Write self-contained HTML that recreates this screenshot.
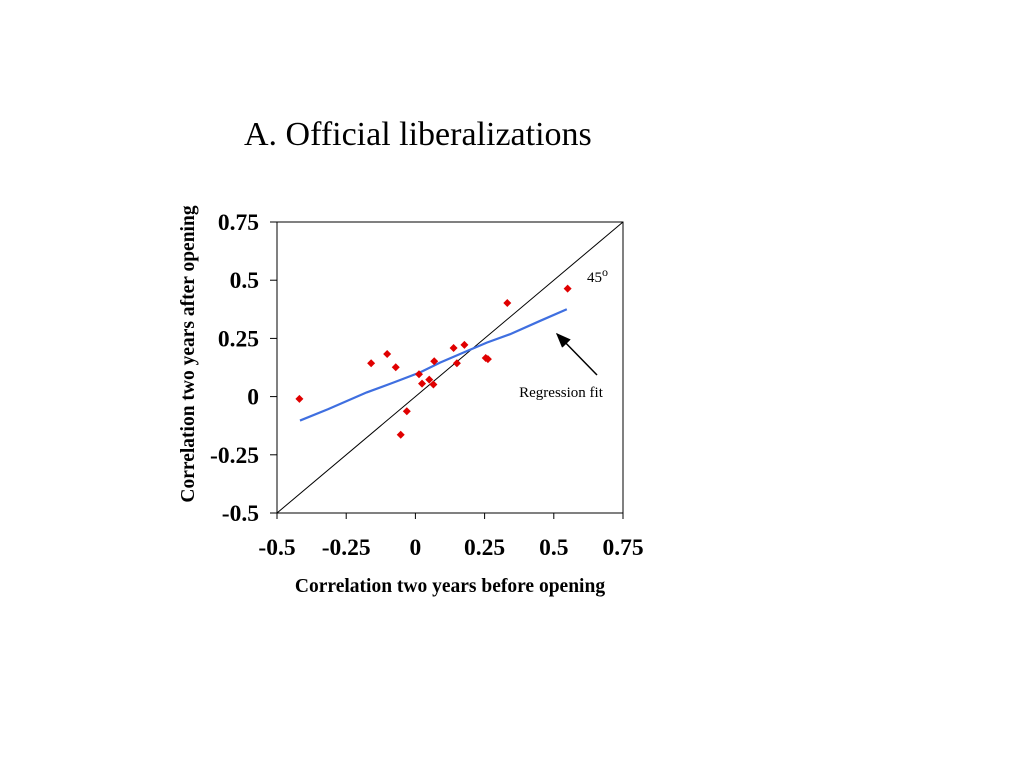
<!DOCTYPE html>
<html><head><meta charset="utf-8"><style>
body{margin:0;background:#fff;width:1024px;height:768px;overflow:hidden}
svg{font-family:"Liberation Serif",serif}
</style></head><body>
<svg id="c" width="1024" height="768" style="position:absolute;left:0;top:0">
<text x="244" y="145" font-size="34">A. Official liberalizations</text>
<g id="plot"></g>
</svg>
<script>
const xTicks=[-0.5,-0.25,0,0.25,0.5,0.75];
const yTicks=[-0.5,-0.25,0,0.25,0.5,0.75];
const tickLabels=["-0.5","-0.25","0","0.25","0.5","0.75"];
const ptX=[-0.419,-0.160,-0.102,-0.071,-0.031,-0.053,0.013,0.024,0.050,0.065,0.068,0.138,0.150,0.177,0.254,0.262,0.332,0.550];
const ptY=[-0.01,0.143,0.183,0.126,-0.063,-0.164,0.096,0.056,0.073,0.052,0.152,0.209,0.143,0.222,0.166,0.161,0.402,0.464];
const fitX=[-0.417,-0.315,-0.176,-0.080,0.017,0.089,0.173,0.258,0.342,0.450,0.547];
const fitY=[-0.103,-0.054,0.018,0.060,0.104,0.146,0.189,0.232,0.268,0.325,0.375];
const NS="http://www.w3.org/2000/svg";
const L=277,R=623,T=222,B=513;
const sx=v=>L+(v+0.5)/1.25*(R-L);
const sy=v=>B-(v+0.5)/1.25*(B-T);
const g=document.getElementById('plot');
function mk(tag,attrs,parent){const e=document.createElementNS(NS,tag);for(const k in attrs)e.setAttribute(k,attrs[k]);(parent||g).appendChild(e);return e;}
let e=mk('rect',{x:L,y:T,width:R-L,height:B-T,fill:'none',stroke:'#000','stroke-width':1});


xTicks.forEach((v,i)=>{
 let t=mk('line',{x1:sx(v),x2:sx(v),y1:B,y2:B+6,stroke:'#000'});
 
 
 let l=mk('text',{x:sx(v),y:555,'font-size':23.5,'font-weight':'bold','text-anchor':'middle'});
 l.textContent=tickLabels[i];
 
 
});
yTicks.forEach((v,i)=>{
 let t=mk('line',{x1:L-7,x2:L,y1:sy(v),y2:sy(v),stroke:'#000'});
 
 
 let l=mk('text',{x:L-18,y:sy(v)+8,'font-size':23.5,'font-weight':'bold','text-anchor':'end'});
 l.textContent=tickLabels[i];
 
 
});
e=mk('line',{x1:sx(-0.5),y1:sy(-0.5),x2:sx(0.75),y2:sy(0.75),stroke:'#000','stroke-width':1});


e=mk('polyline',{points:fitX.map((v,i)=>sx(v)+','+sy(fitY[i])).join(' '),fill:'none',stroke:'#3f6fe0','stroke-width':2.2});


ptX.forEach((v,i)=>{
 const x=sx(v),y=sy(ptY[i]);
 let p=mk('polygon',{points:`${x},${y-4} ${x+4},${y} ${x},${y+4} ${x-4},${y}`,fill:'#e00000'});
 
 
});
</script>
<svg style="position:absolute;left:0;top:0" width="1024" height="768">
<defs><marker id="ah" markerWidth="10" markerHeight="8" refX="9" refY="4" orient="auto"><path d="M0,0 L10,4 L0,8 Z" fill="#000"/></marker></defs>
<line x1="597" y1="375" x2="557" y2="334" stroke="#000" stroke-width="1.5" marker-end="url(#ah)"/>
<text x="561" y="397" font-size="15" text-anchor="middle" font-family="Liberation Serif,serif">Regression fit</text>
<text x="587" y="282" font-size="15" font-family="Liberation Serif,serif">45<tspan dy="-6" font-size="12">o</tspan></text>
<text x="450" y="592" font-size="19.5" font-weight="bold" text-anchor="middle" font-family="Liberation Serif,serif">Correlation two years before opening</text>
<text transform="translate(194,354) rotate(-90)" font-size="19.5" font-weight="bold" text-anchor="middle" font-family="Liberation Serif,serif">Correlation two years after opening</text>
</svg>
</body></html>
